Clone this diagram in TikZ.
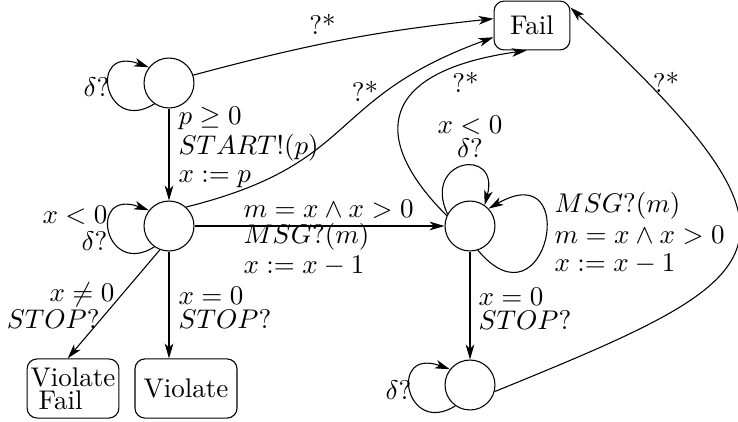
\documentclass[tikz,border=0pt]{standalone}
\usetikzlibrary{arrows.meta}
\begin{document}
\begin{tikzpicture}[x=0.3704pt,y=0.3704pt,
  line width=0.4pt,
  state/.style={circle,draw,minimum size=18.5pt,inner sep=0pt},
  box/.style={rectangle,draw,rounded corners=3.7pt,inner sep=0pt},
  arr/.style={-{Stealth[length=5.5pt,width=3.2pt,inset=1.5pt]}},
  lbl/.style={inner sep=0pt,font=\fontsize{10}{10}\selectfont},
  leftloop/.style={out=212,in=160,out distance=21.9pt,in distance=24.4pt}]
\useasboundingbox (0,0) rectangle (738,-421);
% states
\node[state] (s0) at (169,-83) {};
\node[state] (s1) at (169,-226) {};
\node[state] (s2) at (470,-226) {};
\node[state] (s3) at (470,-385) {};
% boxes
\node[box,minimum width=28.1pt,minimum height=18.1pt] (fail) at (532,-25.5) {Fail};
\node[box,minimum width=34pt,minimum height=21.9pt,align=left,font=\fontsize{10}{8.6}\selectfont] (vf) at (73,-388.5) {Violate\\\hspace*{3pt}Fail};
\node[box,minimum width=37.8pt,minimum height=21.9pt] (vio) at (186,-388.5) {Violate};
% straight transitions
\draw[arr] (s0) -- (s1);
\draw[arr] (s1) -- (s2);
\draw[arr] (s2) -- (s3);
\draw[arr] (s1.249) -- (vf.100);
\draw[arr] (s1.south) -- (s1.south |- vio.north);
% transitions to Fail
\draw[arr] (s0.18) to[out=15,in=186] (fail.170);
\draw[arr] (s1.48) to[out=14,in=200,distance=66.7pt] (fail.197);
\draw[arr] (s2.156) to[out=135,in=188,out distance=40.7pt,in distance=55.6pt] (fail.258);
\draw[arr] (s3.-15) .. controls (778,-276) and (830,-250) .. (fail.25);
% self loops
\draw[arr] (s0.235) to[leftloop] (s0.142);
\draw[arr] (s1.235) to[leftloop] (s1.142);
\draw[arr] (s3.235) to[leftloop] (s3.142);
\draw[arr] (s2.152) to[out=115,in=75,distance=22.6pt] (s2.55);
\draw[arr] (s2.-72) to[out=-50,in=30,distance=40pt] (s2.43);
% labels
\node[lbl,anchor=north west,align=left] (l1) at (178,-107) {$p\geq 0$\\[1.1pt]$START!(p)$\\[0.4pt]$x:=p$};
\node[lbl,anchor=east] (l2) at (110,-87.5) {$\delta?$};
\node[lbl,anchor=north east,align=right] (l3) at (108,-206) {$x<0$\\$\delta?$};
\node[lbl,anchor=north east,align=right] (l4) at (115,-282) {$x\neq 0$\\$STOP?$\rule{5.5pt}{0pt}};
\node[lbl,anchor=north west,align=left] (l5) at (178,-287) {$x=0$\\[-1.1pt]$STOP?$};
\node[lbl,anchor=north west,align=left] (l6) at (243,-200) {$m=x\wedge x>0$\\[-0.4pt]$MSG?(m)$\\[1.1pt]$x:=x-1$};
\node[lbl,anchor=north,align=center] (l7) at (470,-116) {$x<0$\\[-1.1pt]$\delta?$};
\node[lbl,anchor=north west,align=left] (l8) at (554,-192) {$MSG?(m)$\\[1.3pt]$m=x\wedge x>0$\\[0.6pt]$x:=x-1$};
\node[lbl,anchor=north west,align=left] (l9) at (478,-288) {$x=0$\\[-1.1pt]$STOP?$};
\node[lbl,anchor=east] (l10) at (412,-390) {$\delta?$};
\node[lbl] (q1) at (322.5,-24) {?*};
\node[lbl] (q2) at (365,-91.5) {?*};
\node[lbl] (q3) at (465.5,-82.5) {?*};
\node[lbl] (q4) at (666,-82.5) {?*};
\end{tikzpicture}
\end{document}
